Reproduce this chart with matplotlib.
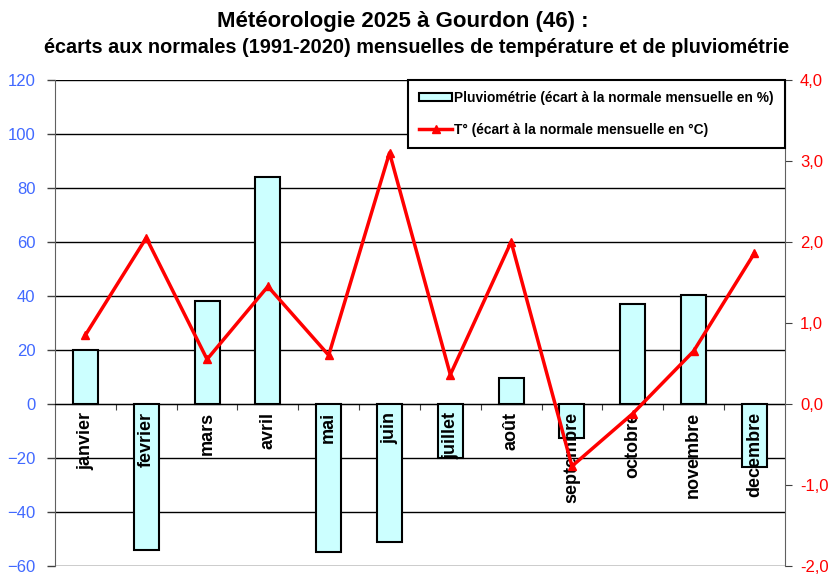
import matplotlib
matplotlib.use("Agg")
from matplotlib import pyplot as plt
from matplotlib.ticker import FuncFormatter
import numpy as np

plt.rcParams["font.family"] = ["Liberation Sans", "DejaVu Sans"]

months = ["janvier", "fevrier", "mars", "avril", "mai", "juin", "juillet",
          "août", "septembre", "octobre", "novembre", "decembre"]
pluvio = [20, -54, 38, 84, -55, -51, -20, 9.5, -12.5, 37, 40.5, -23.5]
temp = [0.85, 2.05, 0.55, 1.45, 0.6, 3.1, 0.36, 2.0, -0.77, -0.12, 0.65, 1.86]

fig = plt.figure(figsize=(8.34, 5.75), dpi=100, facecolor="white")
ax = fig.add_axes([0.066, 0.016, 0.875, 0.845])

x = np.arange(len(months))
bars = ax.bar(x, pluvio, width=0.41, color="#CCFFFF", edgecolor="black", lw=1.5,
              zorder=3, label="Pluviométrie (écart à la normale mensuelle en %)")

ax.set_ylim(-60, 120)
ax.set_yticks(np.arange(-60, 121, 20))
ax.set_xlim(-0.5, len(months) - 0.5)
ax.yaxis.grid(True, color="black", lw=1)
ax.set_axisbelow(True)
ax.tick_params(axis="y", colors="#4169FF", labelsize=12, length=6, width=1, pad=8)
ax.tick_params(axis="y", color="#404040")

# category axis at zero: ticks at category boundaries
ax.spines["bottom"].set_position(("data", 0))
ax.spines["bottom"].set_color("black")
ax.spines["top"].set_visible(False)
ax.spines["right"].set_visible(False)
ax.spines["left"].set_color("#606060")
ax.set_xticks(np.arange(0.5, len(months) - 0.5, 1))
ax.set_xticklabels([])
ax.tick_params(axis="x", which="major", length=4, color="#404040")

# month names drawn over the bars
for xi, m in zip(x, months):
    ax.annotate(m, (xi, 0), xytext=(0, -6), textcoords="offset points",
                rotation=90, ha="center", va="top", fontsize=13,
                fontweight="bold", zorder=6)

ax2 = ax.twinx()
ax2.set_ylim(-2, 4)
ax2.set_yticks(np.arange(-2, 4.1, 1))
ax2.yaxis.set_major_formatter(FuncFormatter(lambda v, p: f"{v:.1f}".replace(".", ",")))
ax2.tick_params(axis="y", colors="red", labelsize=12, length=5, pad=6)
ax2.tick_params(axis="y", color="#404040")
for s in ["top", "left", "bottom"]:
    ax2.spines[s].set_visible(False)
ax2.spines["right"].set_color("#606060")
line, = ax2.plot(x, temp, color="red", lw=2.5, marker="^", ms=6, zorder=4,
                 label="T° (écart à la normale mensuelle en °C)")

leg = ax2.legend([bars, line], [bars.get_label(), line.get_label()],
                 loc="upper right", bbox_to_anchor=(1.0, 1.0), fontsize=9.9,
                 frameon=True, fancybox=False, edgecolor="black", borderaxespad=0,
                 handlelength=2.4, handleheight=0.6, labelspacing=1.3,
                 borderpad=0.8, handletextpad=0.15, framealpha=1)
leg.get_frame().set_linewidth(1.5)
for t in leg.get_texts():
    t.set_fontweight("bold")

fig.text(0.483, 0.962, "Météorologie 2025 à Gourdon (46) :", ha="center", va="center",
         fontsize=16, fontweight="bold")
fig.text(0.5, 0.918, "écarts aux normales (1991-2020) mensuelles de température et de pluviométrie",
         ha="center", va="center", fontsize=14.3, fontweight="bold")

fig.savefig("out.png", dpi=100)
